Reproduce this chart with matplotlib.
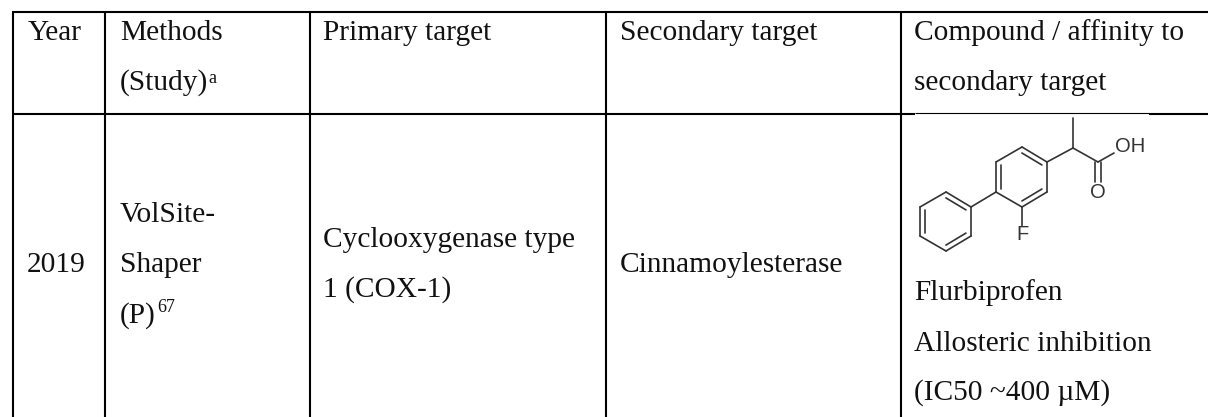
import matplotlib
matplotlib.use('Agg')
import matplotlib.pyplot as plt

# table contents
col_edges = [13, 105, 309.5, 606, 901]
line_right = 1208
top_line = 12
mid_line = 113.5
image_span = (915, 1149)
table_bottom = 417

# (text, x, baseline y)
cell_texts = [
    ('Year', 28, 40),
    ('Methods', 120, 40),
    ('(Study)', 120, 90),
    ('Primary target', 323, 40),
    ('Secondary target', 620, 40),
    ('Compound / affinity to', 914, 40),
    ('secondary target', 914, 90),
    ('2019', 27, 272),
    ('VolSite-', 120, 222),
    ('Shaper', 120, 272),
    ('(P)', 120, 323),
    ('Cyclooxygenase type', 323, 247),
    ('1 (COX-1)', 323, 297),
    ('Cinnamoylesterase', 620, 272),
    ('Flurbiprofen', 914, 300),
    ('Allosteric inhibition', 914, 351),
    ('(IC50 ~400 \u00b5M)', 914, 400),
]
superscripts = [('a', 208, 83), ('67', 157, 312)]

# flurbiprofen skeleton, atom positions
ring_a = [(1022, 147), (1047, 162), (1047, 192), (1022, 207), (996, 192), (996, 162)]
ring_b = [(946, 192), (971, 207), (971, 236), (946, 251), (920, 236), (920, 207)]
chain = [[(996, 192), (971, 207)],
         [(1047, 162), (1073, 148)],
         [(1073, 118), (1073, 148)],
         [(1073, 148), (1098, 162)],
         [(1098, 162), (1114, 153)],
         [(1022, 207), (1022, 226)]]
ring_a_double = [(0, 1), (2, 3), (4, 5)]
ring_b_double = [(0, 1), (2, 3), (4, 5)]
carbonyl = [[(1095, 162), (1095, 182)], [(1101, 162), (1101, 182)]]
atom_labels = [('OH', 1130, 147), ('O', 1098, 192), ('F', 1022, 234)]

fig = plt.figure(figsize=(12.08, 4.17), dpi=100)
ax = fig.add_axes([0, 0, 1, 1])
ax.set_xlim(0, 1208)
ax.set_ylim(417, 0)
ax.axis('off')

# grid lines
for x in col_edges:
    ax.plot([x, x], [top_line, table_bottom], color='black', lw=1.5, solid_capstyle='butt')
ax.plot([col_edges[0] - 1, line_right], [top_line, top_line], color='black', lw=1.5, solid_capstyle='butt')
# the structure image sits over the middle line and thins it
ax.plot([col_edges[0], image_span[0]], [mid_line, mid_line], color='black', lw=1.5, solid_capstyle='butt')
ax.plot(image_span, [mid_line - 0.5, mid_line - 0.5], color='black', lw=0.8, solid_capstyle='butt')
ax.plot([image_span[1], line_right], [mid_line, mid_line], color='black', lw=1.5, solid_capstyle='butt')

for text, x, y in cell_texts:
    ax.text(x, y, text, fontsize=15 * 1.41, family='Liberation Serif', color='#111111', ha='left', va='baseline')
for text, x, y in superscripts:
    ax.text(x, y, text, fontsize=13, family='Liberation Serif', color='#111111', ha='left', va='baseline')


def draw_bond(p, q, width=1.2):
    ax.plot([p[0], q[0]], [p[1], q[1]], color='#333333', lw=width, solid_capstyle='round')


def draw_ring(ring, doubles):
    cx = sum(p[0] for p in ring) / 6
    cy = sum(p[1] for p in ring) / 6
    for i in range(6):
        draw_bond(ring[i], ring[(i + 1) % 6])
    # inner lines of the double bonds
    for i, j in doubles:
        p = ring[i]
        q = ring[j]
        p2 = (p[0] + (cx - p[0]) * 0.2, p[1] + (cy - p[1]) * 0.2)
        q2 = (q[0] + (cx - q[0]) * 0.2, q[1] + (cy - q[1]) * 0.2)
        draw_bond(p2, q2)


draw_ring(ring_a, ring_a_double)
draw_ring(ring_b, ring_b_double)
for bond in chain + carbonyl:
    draw_bond(bond[0], bond[1])
for text, x, y in atom_labels:
    ax.text(x, y, text, fontsize=14.5, family='Liberation Sans', color='#333333', ha='center', va='center')

fig.savefig('out.png', dpi=100)
